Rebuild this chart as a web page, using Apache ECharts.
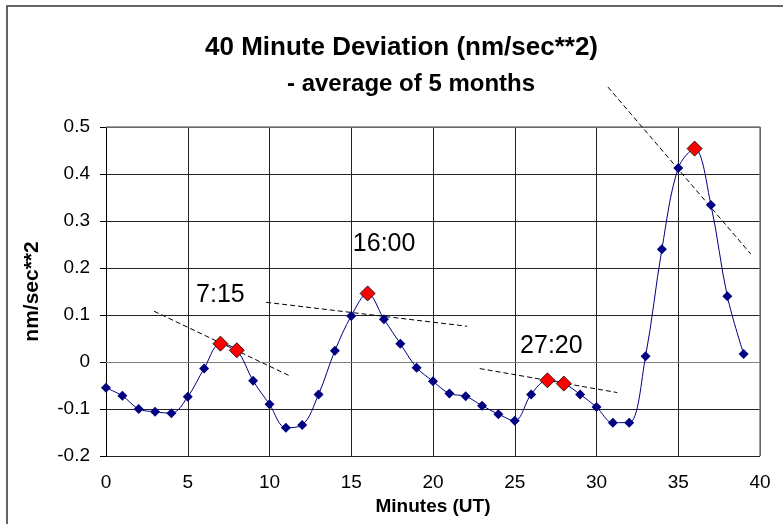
<!DOCTYPE html>
<html>
<head>
<meta charset="utf-8">
<script src="https://cdn.jsdelivr.net/npm/echarts@6/dist/echarts.min.js"></script>
<style>
  html, body { margin: 0; padding: 0; background: #fff; }
  #chart { width: 783px; height: 524px; }
</style>
</head>
<body>
<div id="chart"></div>
<script>
// Minute of the hour (UT) and the mean 40-minute deviation in nm/sec**2
const minutes = [0,1,2,3,4,5,6,7,8,9,10,11,12,13,14,15,16,17,18,19,
                 20,21,22,23,24,25,26,27,28,29,30,31,32,33,34,35,36,37,38,39];
const deviation = [-0.055,-0.072,-0.100,-0.106,-0.109,-0.074,-0.014,0.039,0.025,-0.040,
                   -0.090,-0.140,-0.134,-0.069,0.024,0.098,0.146,0.091,0.039,-0.012,
                   -0.041,-0.067,-0.073,-0.093,-0.111,-0.125,-0.069,-0.039,-0.046,-0.069,
                   -0.096,-0.129,-0.129,0.012,0.240,0.413,0.454,0.334,0.140,0.017];

// Minutes marking the peaks
const peakMinutes = [7, 8, 16, 27, 28, 36];

// Dashed trend lines through each peak: [x, y] end points
const trend715  = [[2.94, 0.108], [11.27, -0.030]];
const trend1600 = [[9.80, 0.127], [22.09, 0.076]];
const trend2720 = [[22.86, -0.014], [31.27, -0.065]];
const trend3550 = [[30.70, 0.585], [39.43, 0.230]];

// Peak time labels and where they sit
const peakLabels = ['7:15', '16:00', '27:20', '35:50'];
const peakLabelPos = [[7.0, 0.142], [17.01, 0.251], [27.24, 0.034], [37.09, 0.546]];

const mainData = minutes.map((m, i) => [m, deviation[i]]);
const peakData = peakMinutes.map(m => [m, deviation[minutes.indexOf(m)]]);

const FONT = '"Liberation Sans", Arial, sans-serif';

function trendSeries(pts) {
  return {
    type: 'line',
    data: pts,
    symbol: 'none',
    clip: false,
    silent: true,
    z: 3,
    lineStyle: { color: '#000', width: 1, type: [5, 3] }
  };
}

const chart = echarts.init(document.getElementById('chart'), null, { renderer: 'canvas' });

chart.setOption({
  animation: false,
  backgroundColor: '#fff',
  title: [{
    text: '40 Minute Deviation (nm/sec**2)',
    left: 200,
    top: 30,
    textStyle: { fontFamily: FONT, fontWeight: 'bold', fontSize: 26, color: '#000' }
  }, {
    text: '- average of 5 months',
    left: 282,
    top: 67,
    textStyle: { fontFamily: FONT, fontWeight: 'bold', fontSize: 24, color: '#000' }
  }],
  graphic: [{
    type: 'rect',
    shape: { x: 7, y: 6, width: 900, height: 700 },
    style: { fill: 'none', stroke: '#333', lineWidth: 1.5 },
    silent: true
  }],
  grid: { left: 106, right: 23, top: 127, bottom: 68 },
  xAxis: {
    type: 'value',
    min: 0,
    max: 40,
    interval: 5,
    name: 'Minutes (UT)',
    nameLocation: 'middle',
    nameGap: 40,
    nameTextStyle: { fontFamily: FONT, fontWeight: 'bold', fontSize: 19, color: '#000' },
    axisLine: { show: true, lineStyle: { color: '#808080', width: 1 } },
    axisTick: { show: false },
    axisLabel: { margin: 17, fontFamily: FONT, fontSize: 19, color: '#000' },
    splitLine: { show: true, lineStyle: { color: '#222', width: 1 } }
  },
  yAxis: {
    type: 'value',
    min: -0.2,
    max: 0.5,
    interval: 0.1,
    name: 'nm/sec**2',
    nameLocation: 'middle',
    nameGap: 63,
    nameRotate: 90,
    nameTextStyle: { fontFamily: FONT, fontWeight: 'bold', fontSize: 21, color: '#000' },
    axisLine: { show: true, lineStyle: { color: '#000', width: 1 } },
    axisTick: { show: true, inside: false, length: 6, lineStyle: { color: '#000' } },
    axisLabel: {
      margin: 16,
      fontFamily: FONT,
      fontSize: 19,
      color: '#000',
      formatter: v => String(parseFloat(v.toFixed(1)))
    },
    splitLine: { show: true, lineStyle: { color: '#222', width: 1 } }
  },
  series: [
    // outer frame of the plot area (top and right edges)
    {
      type: 'line',
      data: [[0, 0.5], [40, 0.5], [40, -0.2]],
      symbol: 'none',
      silent: true,
      clip: false,
      z: 1,
      lineStyle: { color: '#808080', width: 1.5 }
    },
    trendSeries(trend715),
    trendSeries(trend1600),
    trendSeries(trend2720),
    trendSeries(trend3550),
    {
      type: 'line',
      data: mainData,
      smooth: 0.35,
      symbol: 'diamond',
      symbolSize: 10,
      z: 4,
      lineStyle: { color: '#000080', width: 1 },
      itemStyle: { color: '#000080', borderColor: '#000080', borderWidth: 0, opacity: 1 }
    },
    {
      type: 'scatter',
      data: peakData,
      symbol: 'diamond',
      symbolSize: 15,
      z: 5,
      itemStyle: { color: '#ff0000', borderColor: '#000', borderWidth: 0.8, opacity: 1 }
    },
    {
      type: 'scatter',
      data: peakLabelPos.map((p, i) => ({ value: p, name: peakLabels[i] })),
      symbolSize: 0,
      silent: true,
      z: 6,
      itemStyle: { opacity: 1 },
      label: {
        show: true,
        position: 'inside',
        formatter: p => p.name,
        fontFamily: FONT,
        fontSize: 25,
        color: '#000',
        textBorderWidth: 0
      }
    }
  ]
});
</script>
</body>
</html>
